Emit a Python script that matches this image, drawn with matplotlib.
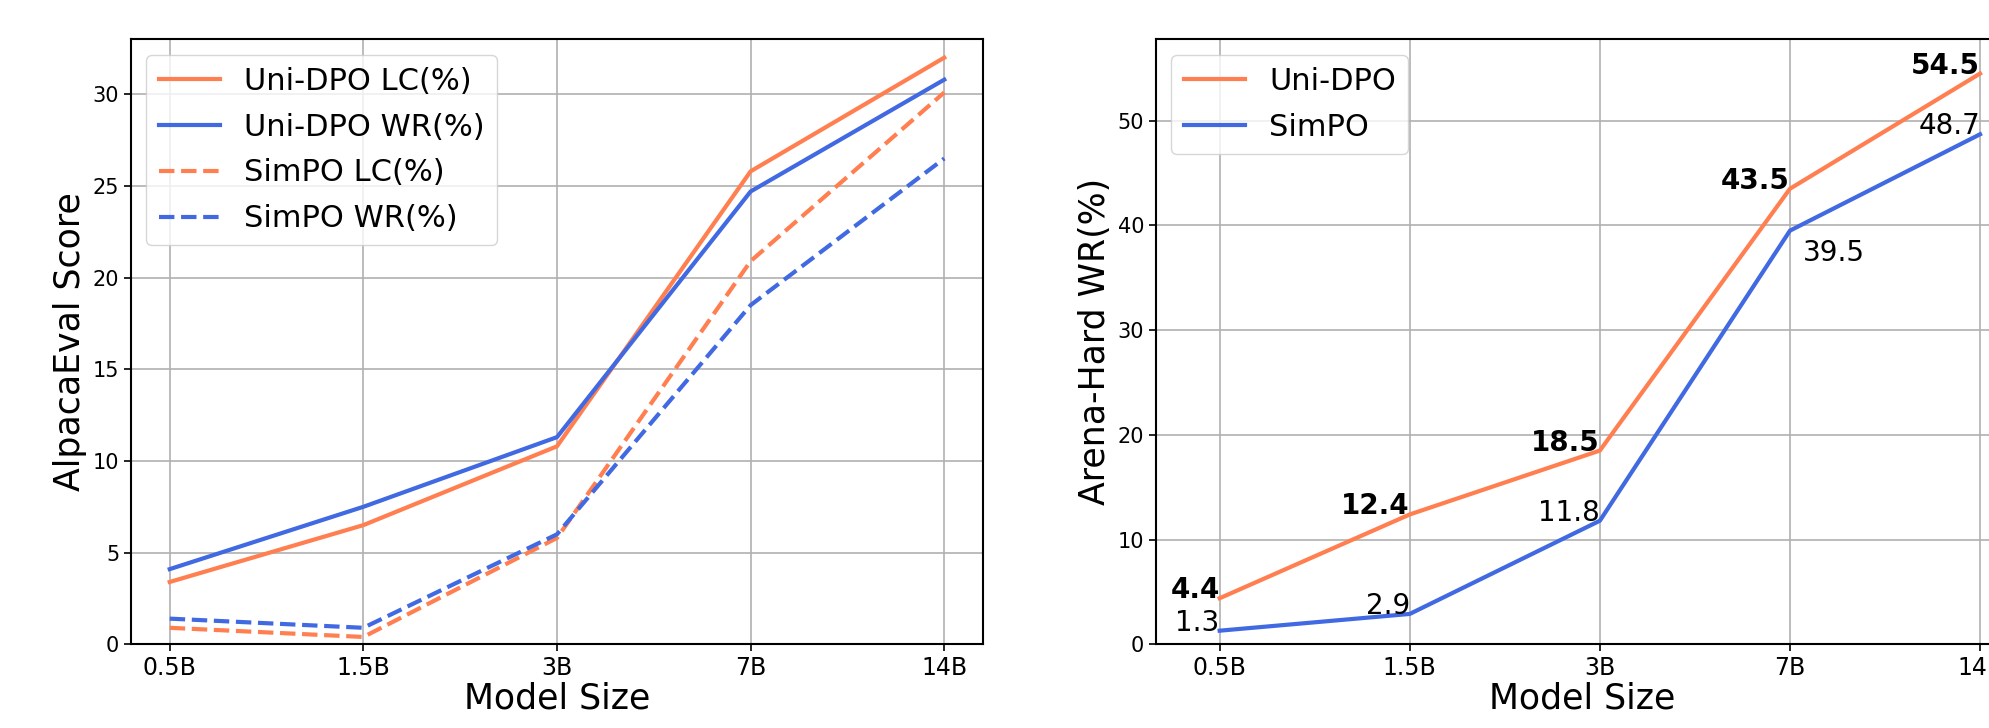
import matplotlib
matplotlib.use("Agg")
import matplotlib.pyplot as plt

sizes = ["0.5B", "1.5B", "3B", "7B", "14B"]

# AlpacaEval (left)
uni_lc = [3.4, 6.5, 10.8, 25.8, 32.0]
uni_wr = [4.1, 7.5, 11.3, 24.7, 30.8]
sim_lc = [0.9, 0.4, 5.8, 20.9, 30.1]
sim_wr = [1.4, 0.9, 6.0, 18.5, 26.5]

# Arena-Hard (right)
arena_uni = [4.4, 12.4, 18.5, 43.5, 54.5]
arena_sim = [1.3, 2.9, 11.8, 39.5, 48.7]

ORANGE = "#FF7F50"
BLUE = "#4169E1"

plt.rcParams["font.family"] = ["DejaVu Sans"]

fig = plt.figure(figsize=(19.89, 7.28), dpi=100)
ax1 = fig.add_axes([131/1989, 83.7/728, 852/1989, 605/728])
ax2 = fig.add_axes([1156/1989, 83.7/728, 852/1989, 605/728])

x = list(range(len(sizes)))
LW = 3

ax1.plot(x, uni_lc, color=ORANGE, lw=LW, label="Uni-DPO LC(%)")
ax1.plot(x, uni_wr, color=BLUE, lw=LW, label="Uni-DPO WR(%)")
ax1.plot(x, sim_lc, color=ORANGE, lw=LW, ls="--", label="SimPO LC(%)")
ax1.plot(x, sim_wr, color=BLUE, lw=LW, ls="--", label="SimPO WR(%)")
ax1.set_xlim(-0.2, 4.2)
ax1.set_ylim(0, 33)
ax1.set_ylabel("AlpacaEval Score", fontsize=25)

ax2.plot(x, arena_uni, color=ORANGE, lw=LW, label="Uni-DPO")
ax2.plot(x, arena_sim, color=BLUE, lw=LW, label="SimPO")
ax2.set_xlim(-0.335, 4.147)
ax2.set_ylim(0, 57.77)
ax2.set_ylabel("Arena-Hard WR(%)", fontsize=25)

for i, v in enumerate(arena_uni):
    ax2.annotate(f"{v}", (x[i], v), ha="right", va="baseline",
                 fontsize=20, fontweight="bold", annotation_clip=False)
for i, v in enumerate(arena_sim):
    if i == 3:
        ax2.annotate(f"{v}", (x[i], v), xytext=(9, -6), textcoords="offset points",
                     ha="left", va="top", fontsize=20, annotation_clip=False)
    else:
        ax2.annotate(f"{v}", (x[i], v), ha="right", va="baseline",
                     fontsize=20, annotation_clip=False)

for ax in (ax1, ax2):
    ax.set_xticks(x)
    ax.set_xticklabels(sizes)
    ax.tick_params(axis="x", labelsize=17, length=5, width=1.2)
    ax.tick_params(axis="y", labelsize=15, length=5, width=1.2)
    ax.set_xlabel("Model Size", fontsize=25, labelpad=1)
    ax.grid(True, color="#b0b0b0", lw=1.2)
    ax.set_axisbelow(True)
    for s in ax.spines.values():
        s.set_linewidth(1.5)
    ax.legend(loc="upper left", fontsize=22, labelspacing=0.55)

fig.savefig("out.png", dpi=100)
